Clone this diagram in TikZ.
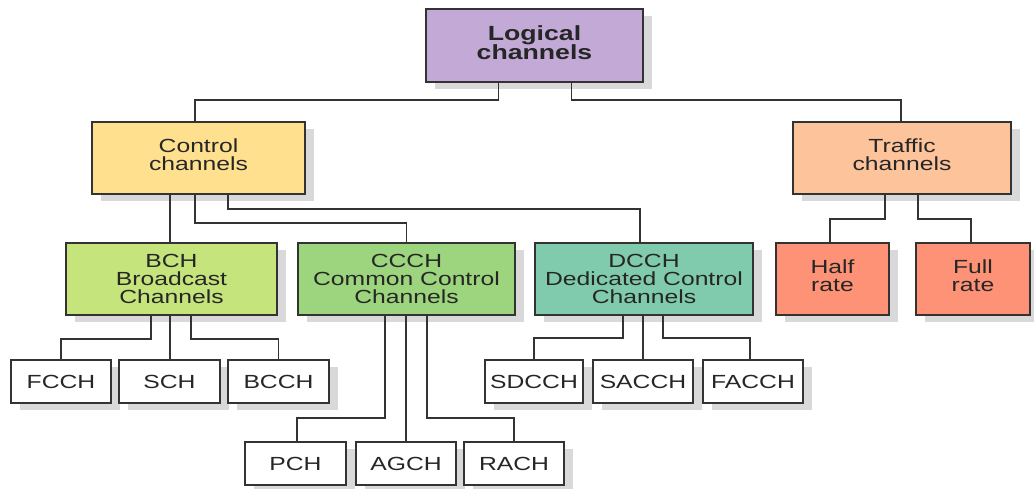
\documentclass[tikz,border=0pt]{standalone}
\usepackage{fontspec}
\setmainfont{Liberation Sans}[FakeStretch=1.3]
\usetikzlibrary{shadows}
\definecolor{edge}{HTML}{333333}
\definecolor{ink}{HTML}{262626}
\definecolor{shade}{HTML}{D9D9D9}
\definecolor{cLog}{HTML}{C3A9D5}
\definecolor{cCtl}{HTML}{FEE08F}
\definecolor{cTrf}{HTML}{FDC39A}
\definecolor{cBch}{HTML}{C5E47C}
\definecolor{cCcch}{HTML}{9DD57E}
\definecolor{cDcch}{HTML}{80CBAE}
\definecolor{cRate}{HTML}{FD9276}
\tikzset{
  box/.style={draw=edge, line width=1.3pt, anchor=north west, inner sep=0pt, outer sep=0pt,
    align=center, text=ink, font=\fontsize{19}{18}\selectfont,
    general shadow={fill=shade, shadow xshift=9pt, shadow yshift=-7pt}},
  twoline/.style={text depth=6pt},
  leaf/.style={box, fill=white, minimum width=100pt, minimum height=43pt},
  wire/.style={draw=edge, line width=1.3pt}
}
\begin{document}
\begin{tikzpicture}[x=1pt, y=-1pt]
\useasboundingbox (0,0) rectangle (1034,488);
% top level
\node[box, twoline, fill=cLog, minimum width=217pt, minimum height=73pt,
      font=\bfseries\fontsize{20.5}{19.5}\selectfont] (log) at (426,9) {Logical\\channels};
% second level
\node[box, twoline, fill=cCtl, minimum width=213pt, minimum height=72pt] (ctl) at (92,122) {Control\\channels};
\node[box, twoline, fill=cTrf, minimum width=218pt, minimum height=72pt] (trf) at (793,122) {Traffic\\channels};
% third level
\node[box, fill=cBch, minimum width=211pt, minimum height=72pt] (bch) at (66,243) {BCH\\Broadcast\\Channels};
\node[box, fill=cCcch, minimum width=217pt, minimum height=72pt] (ccch) at (298,243) {CCCH\\Common Control\\Channels};
\node[box, fill=cDcch, minimum width=218pt, minimum height=72pt] (dcch) at (535,243) {DCCH\\Dedicated Control\\Channels};
\node[box, twoline, fill=cRate, minimum width=113pt, minimum height=72pt] (half) at (776,243) {Half\\rate};
\node[box, twoline, fill=cRate, minimum width=114pt, minimum height=72pt] (full) at (916,243) {Full\\rate};
% leaves
\node[leaf] (fcch) at (11,360) {FCCH};
\node[leaf, minimum width=101pt] (sch) at (119,360) {SCH};
\node[leaf, minimum width=101pt] (bcch) at (228,360) {BCCH};
\node[leaf, minimum width=98pt] (sdcch) at (485,360) {SDCCH};
\node[leaf] (sacch) at (593,360) {SACCH};
\node[leaf] (facch) at (703,360) {FACCH};
\node[leaf, minimum width=101pt] (pch) at (245,442) {PCH};
\node[leaf] (agch) at (356,442) {AGCH};
\node[leaf] (rach) at (464,442) {RACH};
% connectors
\draw[wire] ([xshift=-36pt]log.south) -- ++(0,18) -| ([xshift=-3.5pt]ctl.north);
\draw[wire] ([xshift=37pt]log.south) -- ++(0,18) -| ([xshift=-1pt]trf.north);
\draw[wire] ([xshift=-1.5pt]bch.north |- ctl.south) -- ([xshift=-1.5pt]bch.north);
\draw[wire] ([xshift=-3.5pt]ctl.south) -- ++(0,29) -| (ccch.north);
\draw[wire] ([xshift=29.5pt]ctl.south) -- ++(0,15) -| ([xshift=-4pt]dcch.north);
\draw[wire] ([xshift=-17pt]trf.south) -- ++(0,25) -| ([xshift=-2.5pt]half.north);
\draw[wire] ([xshift=16pt]trf.south) -- ++(0,25) -| ([xshift=-2pt]full.north);
\draw[wire] ([xshift=-20.5pt]bch.south) -- ++(0,24) -| (fcch.north);
\draw[wire] ([xshift=0.5pt]sch.north |- bch.south) -- ([xshift=0.5pt]sch.north);
\draw[wire] ([xshift=19.5pt]bch.south) -- ++(0,24) -| (bcch.north);
\draw[wire] ([xshift=-21.5pt]ccch.south) -- ++(0,103) -| ([xshift=1.5pt]pch.north);
\draw[wire] (agch.north |- ccch.south) -- (agch.north);
\draw[wire] ([xshift=20.5pt]ccch.south) -- ++(0,103) -| (rach.north);
\draw[wire] ([xshift=-21pt]dcch.south) -- ++(0,23) -| (sdcch.north);
\draw[wire] (sacch.north |- dcch.south) -- (sacch.north);
\draw[wire] ([xshift=19pt]dcch.south) -- ++(0,23) -| ([xshift=-3pt]facch.north);
\end{tikzpicture}
\end{document}
